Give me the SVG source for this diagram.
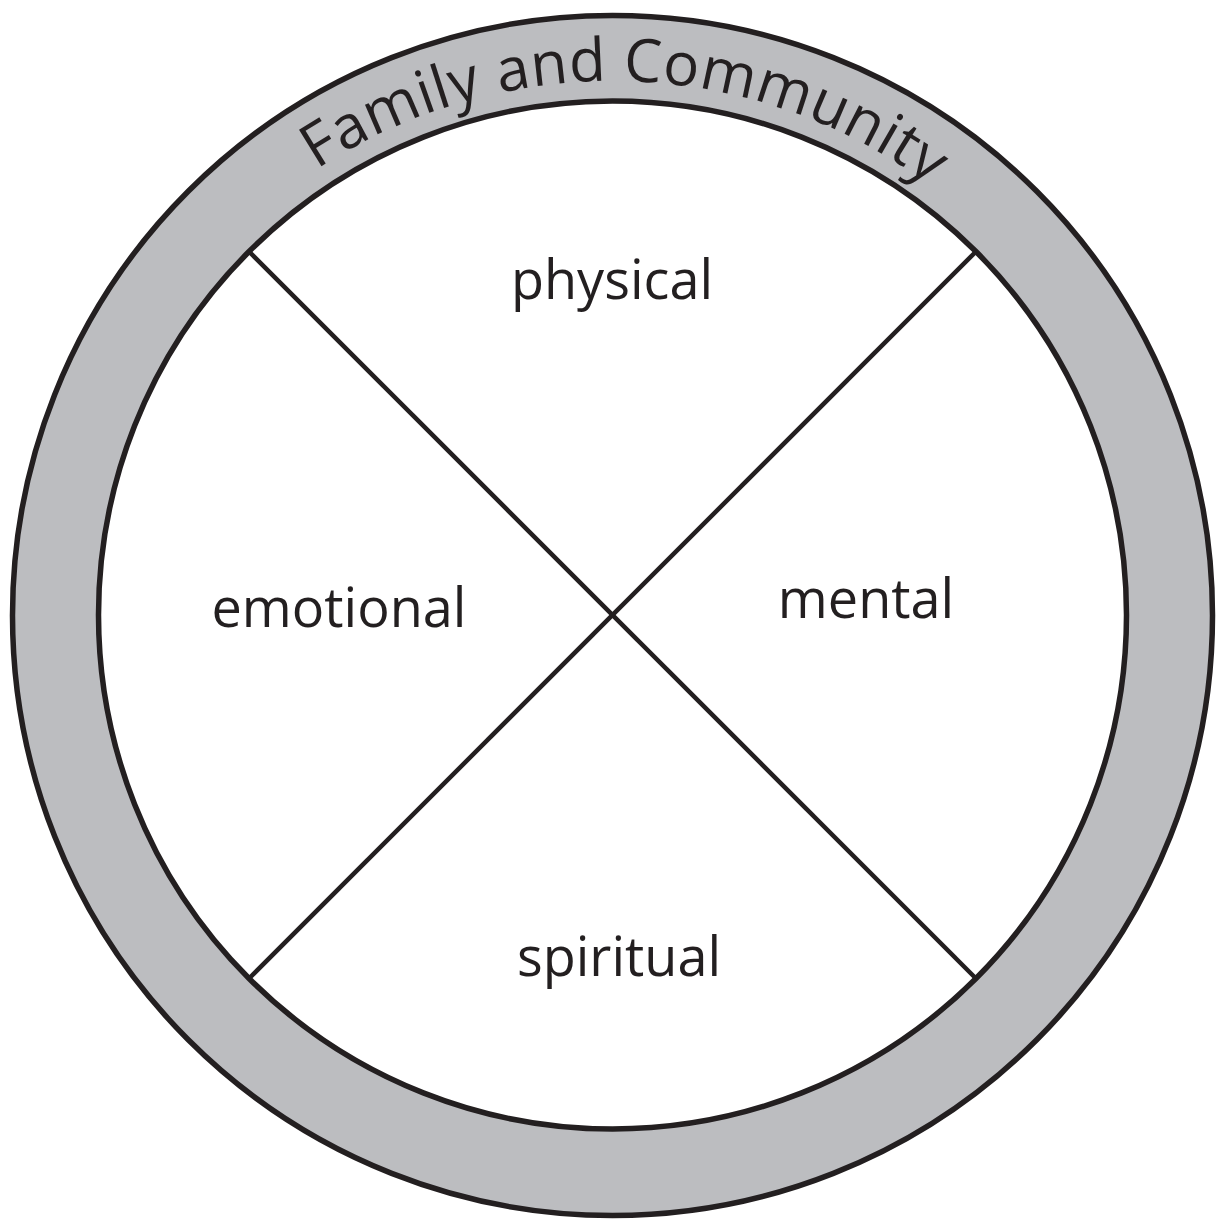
<svg xmlns="http://www.w3.org/2000/svg" width="1225" height="1222" viewBox="0 0 1225 1222">
<style>
.ring{fill:#bcbdc0;stroke:#231f20;stroke-width:5.5}
.inner{fill:#ffffff;stroke:#231f20;stroke-width:5.5}
.div{stroke:#231f20;stroke-width:4.5;fill:none}
.lbl{font-family:"Open Sans","Liberation Sans",sans-serif;font-size:54px;fill:#231f20;text-anchor:middle}
.arc{font-family:"Open Sans","Liberation Sans",sans-serif;font-size:60px;fill:#231f20;letter-spacing:0.5px}
</style>
<defs>
<path id="arcPath" d="M 74.2,600.9 A 538 538 0 0 1 1149.8,629.1"/>
</defs>
<rect width="1225" height="1222" fill="#ffffff"/>
<g id="outer-ring">
<circle class="ring" cx="612.5" cy="615.5" r="600"/>
<text class="arc"><textPath href="#arcPath" startOffset="50%" text-anchor="middle">Family and Community</textPath></text>
</g>
<g id="inner-circle">
<circle class="inner" cx="612.5" cy="615" r="514"/>
</g>
<g id="connectors">
<line class="div" x1="249" y1="251.5" x2="976" y2="978.5"/>
<line class="div" x1="976" y1="251.5" x2="249" y2="978.5"/>
</g>
<g id="physical"><text class="lbl" x="612" y="299">physical</text></g>
<g id="emotional"><text class="lbl" x="339" y="627">emotional</text></g>
<g id="mental"><text class="lbl" x="866" y="618">mental</text></g>
<g id="spiritual"><text class="lbl" x="619" y="976">spiritual</text></g>
</svg>
